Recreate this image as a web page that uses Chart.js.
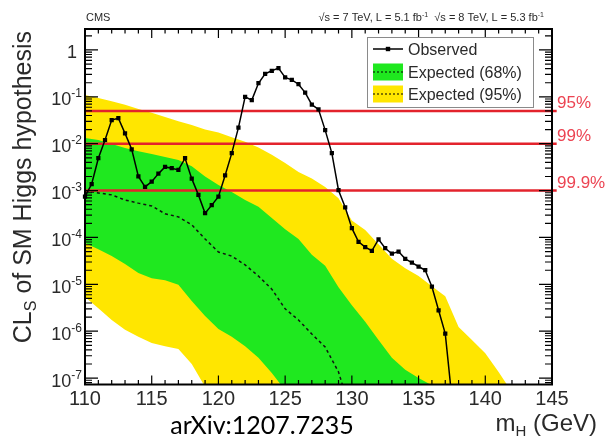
<!DOCTYPE html>
<html>
<head>
<meta charset="utf-8">
<title>CLs of SM Higgs hypothesis</title>
<script src="https://cdn.jsdelivr.net/npm/chart.js@4/dist/chart.umd.min.js"></script>
<style>
  html, body { margin: 0; padding: 0; background: #fff; }
  #wrap { position: relative; width: 615px; height: 440px; }
</style>
</head>
<body>
<div id="wrap"><canvas id="cls" width="615" height="440"></canvas></div>
<script>
// ---- data ---------------------------------------------------------------
// Observed CLs, scanned every 0.5 GeV
const massObserved = [110, 110.5, 111, 111.5, 112, 112.5, 113, 113.5, 114, 114.5,
  115, 115.5, 116, 116.5, 117, 117.5, 118, 118.5, 119, 119.5,
  120, 120.5, 121, 121.5, 122, 122.5, 123, 123.5, 124, 124.5,
  125, 125.5, 126, 126.5, 127, 127.5, 128, 128.5, 129, 129.5,
  130, 130.5, 131, 131.5, 132, 132.5, 133, 133.5, 134, 134.5,
  135, 135.5, 136, 136.5, 137, 137.5];
const clsObserved = [7.4e-4, 1.38e-3, 4.9e-3, 1.2e-2, 3.2e-2, 3.5e-2, 1.66e-2, 7.6e-3, 2.0e-3, 1.2e-3,
  1.55e-3, 2.3e-3, 3.2e-3, 3.0e-3, 2.75e-3, 4.9e-3, 1.8e-3, 8.1e-4, 3.3e-4, 4.9e-4,
  7.4e-4, 2.1e-3, 6.3e-3, 2.2e-2, 1.0e-1, 8.5e-2, 0.195, 0.31, 0.36, 0.41,
  0.26, 0.23, 0.186, 0.123, 6.8e-2, 5.4e-2, 1.95e-2, 6.3e-3, 1.02e-3, 4.4e-4,
  1.58e-4, 8.1e-5, 6.2e-5, 5.2e-5, 9.1e-5, 5.9e-5, 4.5e-5, 5.0e-5, 3.5e-5, 2.9e-5,
  2.4e-5, 2.0e-5, 8.9e-6, 2.8e-6, 8.9e-7, 3.7e-8];

// Expected CLs (median and bands), every 1 GeV
const massExpected = [110, 111, 112, 113, 114, 115, 116, 117, 118, 119,
  120, 121, 122, 123, 124, 125, 126, 127, 128, 129,
  130, 131, 132, 133, 134, 135, 136, 137, 138, 139,
  140, 141, 142, 143, 144, 145];
const expMedian = [9.8e-4, 8.9e-4, 8.1e-4, 6.3e-4, 5.4e-4, 4.7e-4, 3.2e-4, 2.75e-4, 1.86e-4, 9.3e-5,
  4.9e-5, 4.0e-5, 2.6e-5, 1.5e-5, 7.9e-6, 3.0e-6, 1.74e-6, 8.7e-7, 4.6e-7, 1.35e-7,
  1.6e-8, null, null, null, null, null, null, null, null, null,
  null, null, null, null, null, null];
const band68Upper = [1.32e-2, 1.2e-2, 9.8e-3, 8.1e-3, 6.9e-3, 6.0e-3, 5.2e-3, 4.5e-3, 3.3e-3, 2.0e-3,
  1.32e-3, 9.3e-4, 6.3e-4, 4.5e-4, 2.6e-4, 1.5e-4, 9.3e-5, 4.3e-5, 2.5e-5, 8.7e-6,
  3.6e-6, 1.6e-6, 6.5e-7, 2.7e-7, 1.5e-7, 1.0e-7, 7e-8, 3e-8, 1.3e-8, 6e-9,
  3e-9, 1.5e-9, 7e-10, 3e-10, 1.5e-10, 7e-11];
const band68Lower = [7.6e-5, 5.6e-5, 4.0e-5, 2.7e-5, 1.74e-5, 1.35e-5, 1.23e-5, 9.8e-6, 4.4e-6, 2.1e-6,
  1.12e-6, 7.6e-7, 4.8e-7, 2.7e-7, 1.29e-7, 5.5e-8, 2.5e-8, 1e-8, 4e-9, 1e-12,
  1e-12, 1e-12, 1e-12, 1e-12, 1e-12, 1e-12, 1e-12, 1e-12, 1e-12, 1e-12,
  1e-12, 1e-12, 1e-12, 1e-12, 1e-12, 1e-12];
const band95Upper = [0.110, 9.5e-2, 8.1e-2, 6.8e-2, 5.5e-2, 4.6e-2, 3.7e-2, 3.0e-2, 2.5e-2, 2.0e-2,
  1.74e-2, 1.38e-2, 1.1e-2, 8.3e-3, 5.8e-3, 3.9e-3, 2.5e-3, 1.8e-3, 1.2e-3, 6.9e-4,
  2.3e-4, 1.45e-4, 7.2e-5, 3.5e-5, 2.2e-5, 1.5e-5, 9.1e-6, 5.6e-6, 1.23e-6, 6.5e-7,
  3.4e-7, 1.35e-7, 5.0e-8, 2.0e-8, 8e-9, 3e-9];
const band95Lower = [5.4e-6, 3.1e-6, 1.74e-6, 1.07e-6, 7.6e-7, 5.6e-7, 4.8e-7, 4.2e-7, 2.0e-7, 6.5e-8,
  2e-8, 6e-9, 1e-12, 1e-12, 1e-12, 1e-12, 1e-12, 1e-12, 1e-12, 1e-12,
  1e-12, 1e-12, 1e-12, 1e-12, 1e-12, 1e-12, 1e-12, 1e-12, 1e-12, 1e-12,
  1e-12, 1e-12, 1e-12, 1e-12, 1e-12, 1e-12];

// Exclusion confidence levels drawn as horizontal lines
const clLevels = [0.05, 0.01, 0.001];
const clLabels = ['95%', '99%', '99.9%'];
const clSpan = [110, 145.35];

// Axes
const massRange = [110, 145];
const massTicks = [110, 115, 120, 125, 130, 135, 140, 145];
const clsRange = [7.3e-8, 2.8];
const decadeTicks = [1, 1e-1, 1e-2, 1e-3, 1e-4, 1e-5, 1e-6, 1e-7];

const legendLabels = ['Observed', 'Expected (68%)', 'Expected (95%)'];

// ---- style --------------------------------------------------------------
const FONT = '"Liberation Sans", Arial, Helvetica, sans-serif';
const YELLOW = '#ffe600';
const GREEN = '#1fe81f';
const RED = '#e3232c';
const RED_TEXT = '#ec4452';
const INK = '#2a2a2a';

const pts = (xs, ys) => xs.map((x, i) => ({ x, y: ys[i] }));

// Draw a run of text pieces (for sub/superscripts)
function textRun(ctx, parts, x, y, align) {
  let w = 0;
  for (const p of parts) { ctx.font = (p.weight || '') + ' ' + p.size + 'px ' + (p.family || FONT); w += ctx.measureText(p.t).width; }
  let cx = align === 'right' ? x - w : align === 'center' ? x - w / 2 : x;
  ctx.textAlign = 'left';
  for (const p of parts) {
    ctx.font = (p.weight || '') + ' ' + p.size + 'px ' + (p.family || FONT);
    ctx.fillText(p.t, cx, y + (p.dy || 0));
    cx += ctx.measureText(p.t).width;
  }
  return w;
}

const decorations = {
  id: 'decorations',
  afterDatasetsDraw(chart) {
    const { ctx, chartArea: a, scales: { x, y } } = chart;
    ctx.save();
    ctx.strokeStyle = '#000';
    ctx.lineWidth = 1.2;
    ctx.beginPath();
    // inward ticks along the mass axis (bottom and top)
    for (let m = Math.ceil(x.min); m <= x.max; m++) {
      const px = x.getPixelForValue(m);
      const len = massTicks.includes(m) ? 9 : 4.5;
      ctx.moveTo(px, a.bottom); ctx.lineTo(px, a.bottom - len);
      ctx.moveTo(px, a.top); ctx.lineTo(px, a.top + len);
    }
    // inward ticks along the CLs axis (left and right)
    for (let k = -8; k <= 0; k++) {
      for (let j = 1; j <= 9; j++) {
        const v = j * Math.pow(10, k);
        if (v < y.min || v > y.max) continue;
        const py = y.getPixelForValue(v);
        const len = j === 1 ? 13 : 7;
        ctx.moveTo(a.left, py); ctx.lineTo(a.left + len, py);
        ctx.moveTo(a.right, py); ctx.lineTo(a.right - len, py);
      }
    }
    ctx.stroke();
    // frame
    ctx.lineWidth = 2;
    ctx.strokeRect(a.left, a.top, a.right - a.left, a.bottom - a.top);
    ctx.restore();
  },
  afterDraw(chart) {
    const { ctx, chartArea: a, scales: { y } } = chart;
    const ds = chart.data.datasets;
    ctx.save();
    ctx.textBaseline = 'alphabetic';

    // CLs tick labels
    ctx.fillStyle = INK;
    decadeTicks.forEach(v => {
      const py = y.getPixelForValue(v);
      const k = Math.round(Math.log10(v));
      if (k === 0) textRun(ctx, [{ t: '1', size: 18 }], a.left - 8, py + 8.5, 'right');
      else textRun(ctx, [{ t: '10', size: 18 }, { t: '-' + (-k), size: 12, dy: -8 }], a.left - 3, py + 8.5, 'right');
    });

    // confidence level labels
    ctx.fillStyle = RED_TEXT;
    clLevels.forEach((v, i) => {
      const py = y.getPixelForValue(v);
      textRun(ctx, [{ t: clLabels[i], size: 17 }], a.right + 5, py - 3, 'left');
    });

    // header
    ctx.fillStyle = INK;
    textRun(ctx, [{ t: 'CMS', size: 11 }], a.left + 1, a.top - 8, 'left');
    textRun(ctx, [
      { t: '\u221As = 7 TeV, L = 5.1 fb', size: 11 }, { t: '-1', size: 7, dy: -4 },
      { t: '  \u221As = 8 TeV, L = 5.3 fb', size: 11 }, { t: '-1', size: 7, dy: -4 }
    ], a.right - 8, a.top - 8, 'right');

    // axis titles
    ctx.fillStyle = INK;
    textRun(ctx, [{ t: 'm', size: 24 }, { t: 'H', size: 15, dy: 5 }, { t: ' (GeV)', size: 24 }], 597, 431, 'right');
    ctx.save();
    ctx.translate(31, a.top + 2);
    ctx.rotate(-Math.PI / 2);
    textRun(ctx, [{ t: 'CL', size: 25 }, { t: 'S', size: 16, dy: 5 }, { t: ' of SM Higgs hypothesis', size: 25 }], 0, 0, 'right');
    ctx.restore();

    // reference
    ctx.fillStyle = '#000';
    textRun(ctx, [{ t: 'arXiv:1207.7235', size: 25, family: 'Lato, "Open Sans", sans-serif' }], 262, 434, 'center');

    // legend
    const bx = a.right - 185, by = a.top + 8, bw = 166, bh = 70;
    ctx.fillStyle = '#fff';
    ctx.fillRect(bx, by, bw, bh);
    ctx.strokeStyle = '#8a8a8a';
    ctx.lineWidth = 1;
    ctx.strokeRect(bx + 0.5, by + 0.5, bw, bh);
    const rows = [by + 12, by + 35, by + 57];
    const sx = bx + 6, sw = 30;
    // observed entry
    ctx.strokeStyle = '#000'; ctx.lineWidth = 1.5;
    ctx.beginPath(); ctx.moveTo(sx, rows[0]); ctx.lineTo(sx + sw, rows[0]); ctx.stroke();
    ctx.fillStyle = '#000'; ctx.fillRect(sx + sw / 2 - 2.2, rows[0] - 2.2, 4.4, 4.4);
    // band entries
    [[ds[2].backgroundColor, rows[1]], [ds[0].backgroundColor, rows[2]]].forEach(([c, ry]) => {
      ctx.fillStyle = c; ctx.fillRect(sx, ry - 8.5, sw, 17);
      ctx.strokeStyle = '#000'; ctx.lineWidth = 1.2; ctx.setLineDash([2, 2]);
      ctx.beginPath(); ctx.moveTo(sx, ry); ctx.lineTo(sx + sw, ry); ctx.stroke();
      ctx.setLineDash([]);
    });
    ctx.fillStyle = INK;
    legendLabels.forEach((t, i) => textRun(ctx, [{ t, size: 16 }], bx + 41, rows[i] + 6, 'left'));
    ctx.restore();
  }
};

const flat = { pointRadius: 0, borderWidth: 0, tension: 0 };

new Chart(document.getElementById('cls'), {
  type: 'line',
  data: {
    datasets: [
      { label: 'Expected (95%) upper', data: pts(massExpected, band95Upper), fill: '+1', backgroundColor: YELLOW, borderColor: YELLOW, order: 6, ...flat },
      { label: 'Expected (95%) lower', data: pts(massExpected, band95Lower), fill: false, borderColor: YELLOW, order: 6, ...flat },
      { label: 'Expected (68%) upper', data: pts(massExpected, band68Upper), fill: '+1', backgroundColor: GREEN, borderColor: GREEN, order: 5, ...flat },
      { label: 'Expected (68%) lower', data: pts(massExpected, band68Lower), fill: false, borderColor: GREEN, order: 5, ...flat },
      { label: 'Expected', data: pts(massExpected, expMedian), borderColor: '#111', borderWidth: 1.5, borderDash: [3, 3], pointRadius: 0, fill: false, spanGaps: false, order: 4 },
      ...clLevels.map(v => ({
        label: 'CL ' + v, data: clSpan.map(m => ({ x: m, y: v })), borderColor: RED, borderWidth: 2.5,
        pointRadius: 0, fill: false, order: 3, clip: { left: 0, top: 0, right: 8, bottom: 0 }
      })),
      { label: 'Observed', data: pts(massObserved, clsObserved), borderColor: '#000', borderWidth: 1.5,
        pointStyle: 'rect', pointRadius: 3, pointBackgroundColor: '#000', pointBorderWidth: 0,
        fill: false, order: 1, clip: { left: 4, top: 0, right: 0, bottom: 0 } }
    ]
  },
  options: {
    responsive: false,
    animation: false,
    devicePixelRatio: 1,
    layout: { padding: { top: 29, right: 63, left: 0, bottom: 0 } },
    elements: { line: { tension: 0 } },
    plugins: { legend: { display: false }, tooltip: { enabled: false }, title: { display: false } },
    scales: {
      x: {
        type: 'linear', min: massRange[0], max: massRange[1],
        afterFit(s) { s.height = 55.5; },
        afterBuildTicks(s) { s.ticks = massTicks.map(v => ({ value: v })); },
        grid: { display: false, drawTicks: false },
        border: { display: false },
        ticks: { font: { size: 20, family: FONT }, color: INK, padding: 3, maxRotation: 0, autoSkip: false, callback: v => String(v) }
      },
      y: {
        type: 'logarithmic', min: clsRange[0], max: clsRange[1],
        afterFit(s) { s.width = 85; },
        grid: { display: false, drawTicks: false },
        border: { display: false },
        ticks: { display: false }
      }
    }
  },
  plugins: [decorations]
});
</script>
</body>
</html>
